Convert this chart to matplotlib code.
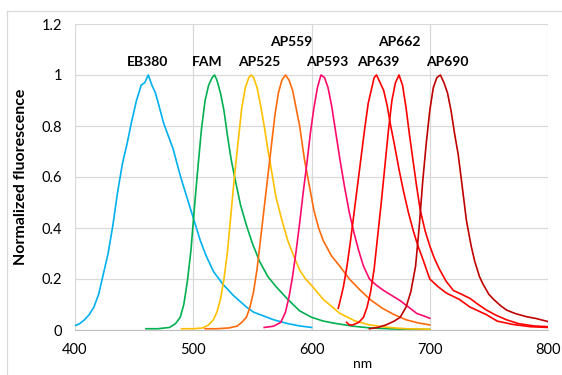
import matplotlib
matplotlib.use('Agg')
import matplotlib.pyplot as plt
from matplotlib.lines import Line2D

plt.rcParams['font.family'] = ['Lato', 'DejaVu Sans']

# spectra (wavelength in nm, normalized fluorescence)
eb380_wl = [400, 404, 408, 412, 416, 420, 424, 428, 432, 436, 440, 444, 448, 452, 456, 459, 462, 465,
            468, 471, 475, 479, 483, 487, 490, 494, 498, 502, 506, 511, 517, 525, 534, 545, 551, 568, 580, 590, 600]
eb380_y = [0.017, 0.025, 0.04, 0.06, 0.09, 0.14, 0.22, 0.30, 0.41, 0.54, 0.65, 0.73, 0.82, 0.90, 0.96, 0.97, 1.0, 0.96,
           0.93, 0.88, 0.81, 0.76, 0.71, 0.64, 0.59, 0.53, 0.47, 0.41, 0.35, 0.29, 0.23, 0.18, 0.135, 0.09, 0.07, 0.04, 0.025, 0.016, 0.01]

fam_wl = [460, 470, 480, 485, 489, 492, 495, 498, 501, 504, 507, 510, 513, 516, 518, 520, 523, 526, 529, 532, 535,
          540, 545, 550, 556, 563, 570, 580, 590, 600, 610, 620, 635, 650, 670, 700]
fam_y = [0.005, 0.005, 0.01, 0.025, 0.05, 0.10, 0.19, 0.31, 0.48, 0.64, 0.79, 0.90, 0.96, 0.99, 1.0, 0.98, 0.93, 0.86,
         0.76, 0.67, 0.60, 0.49, 0.41, 0.34, 0.27, 0.21, 0.17, 0.12, 0.075, 0.05, 0.035, 0.026, 0.015, 0.008, 0.004, 0.002]

ap525_wl = [490, 500, 508, 513, 517, 520, 523, 526, 529, 532, 535, 538, 541, 544, 547, 549, 551, 554, 557, 560, 563,
            566, 570, 575, 580, 585, 590, 595, 600, 610, 624, 637, 649, 665, 680, 700]
ap525_y = [0.005, 0.005, 0.008, 0.02, 0.04, 0.07, 0.12, 0.20, 0.31, 0.46, 0.61, 0.74, 0.87, 0.95, 0.99, 1.0, 0.99, 0.95,
           0.88, 0.80, 0.71, 0.63, 0.52, 0.43, 0.35, 0.29, 0.235, 0.20, 0.175, 0.12, 0.065, 0.035, 0.02, 0.01, 0.005, 0.003]

ap559_wl = [510, 520, 530, 537, 541, 545, 548, 551, 554, 557, 560, 563, 566, 569, 572, 575, 578, 581, 584, 587, 590,
            594, 598, 602, 606, 610, 617, 624, 632, 641, 650, 660, 670, 680, 690, 700]
ap559_y = [0.005, 0.005, 0.008, 0.015, 0.03, 0.05, 0.09, 0.15, 0.24, 0.36, 0.48, 0.60, 0.72, 0.84, 0.93, 0.98, 1.0, 0.98,
           0.94, 0.87, 0.80, 0.67, 0.57, 0.47, 0.40, 0.35, 0.29, 0.25, 0.20, 0.157, 0.118, 0.085, 0.06, 0.04, 0.028, 0.02]

ap593_wl = [560, 568, 574, 578, 581, 584, 587, 590, 593, 596, 599, 602, 605, 608, 611, 614, 617, 620, 624, 628, 632,
            636, 640, 644, 649, 655, 661, 668, 675, 682, 689, 695, 700]
ap593_y = [0.01, 0.015, 0.03, 0.07, 0.13, 0.21, 0.31, 0.42, 0.54, 0.65, 0.77, 0.87, 0.95, 1.0, 0.99, 0.95, 0.88, 0.79,
           0.67, 0.56, 0.46, 0.38, 0.31, 0.25, 0.20, 0.175, 0.155, 0.135, 0.115, 0.09, 0.065, 0.055, 0.046]

ap639_wl = [622.6, 624, 627, 630, 633, 636, 639, 642, 645, 648, 651, 653, 655, 658, 661, 664, 667, 670, 674, 678, 682,
            686, 690, 694, 700, 707, 714, 725, 734, 748, 757, 770, 785, 800]
ap639_y = [0.085, 0.11, 0.17, 0.25, 0.35, 0.46, 0.57, 0.68, 0.79, 0.89, 0.95, 0.99, 1.0, 0.97, 0.94, 0.88, 0.80, 0.73,
           0.63, 0.54, 0.46, 0.39, 0.33, 0.28, 0.20, 0.17, 0.145, 0.12, 0.09, 0.06, 0.035, 0.022, 0.013, 0.01]

ap662_wl = [629.7, 632, 635, 640, 644, 647, 650, 653, 656, 659, 662, 665, 668, 671, 674, 677, 680, 683, 686, 689, 692,
            696, 700, 704, 708, 714, 720, 727, 734, 741, 748, 756, 765, 775, 788, 800]
ap662_y = [0.03, 0.02, 0.02, 0.03, 0.05, 0.09, 0.15, 0.24, 0.37, 0.50, 0.64, 0.78, 0.90, 0.97, 1.0, 0.96, 0.87, 0.76,
           0.66, 0.56, 0.47, 0.39, 0.33, 0.28, 0.24, 0.19, 0.155, 0.14, 0.124, 0.10, 0.078, 0.058, 0.04, 0.025, 0.016, 0.013]

ap690_wl = [649, 656, 663, 670, 675, 680, 684, 688, 691, 694, 697, 700, 703, 706, 709, 712, 715, 718, 721, 724, 727,
            731, 735, 738, 742, 745, 750, 754, 760, 765, 772, 782, 790, 800]
ap690_y = [0.005, 0.01, 0.02, 0.035, 0.05, 0.09, 0.15, 0.25, 0.40, 0.58, 0.73, 0.86, 0.95, 0.99, 1.0, 0.97, 0.93, 0.86,
           0.77, 0.69, 0.58, 0.43, 0.33, 0.27, 0.21, 0.18, 0.14, 0.12, 0.095, 0.078, 0.065, 0.052, 0.045, 0.033]

names = ['EB380', 'FAM', 'AP525', 'AP559', 'AP593', 'AP639', 'AP662', 'AP690']
colors = ['#00B0F0', '#00B050', '#FFC000', '#FF6A0A', '#FF0A6C', '#FF0000', '#FF0000', '#C00000']
# label anchor positions (nm, value)
label_x = [461, 512, 556, 582.5, 613, 656.5, 674.5, 714.5]
label_y = [1.05, 1.05, 1.05, 1.13, 1.05, 1.05, 1.13, 1.05]

series = [(eb380_wl, eb380_y), (fam_wl, fam_y), (ap525_wl, ap525_y), (ap559_wl, ap559_y),
          (ap593_wl, ap593_y), (ap639_wl, ap639_y), (ap662_wl, ap662_y), (ap690_wl, ap690_y)]

fig = plt.figure(figsize=(5.62, 3.75), dpi=100)
ax = fig.add_axes([75 / 562, 1 - 330 / 375, 473 / 562, 306 / 375])

for (wl, y), c in zip(series, colors):
    ax.plot(wl, y, color=c, linewidth=1.2, zorder=3)

for n, lx, ly in zip(names, label_x, label_y):
    ax.text(lx, ly, n, ha='center', va='center', fontsize=10, fontweight='bold', zorder=4)

ax.set_xlim(400, 800)
ax.set_ylim(0, 1.2)
ax.set_xticks([400, 500, 600, 700, 800])
ax.set_yticks([0, 0.2, 0.4, 0.6, 0.8, 1.0, 1.2])
ax.set_yticklabels(['0', '0.2', '0.4', '0.6', '0.8', '1', '1.2'])
ax.grid(True, color='#d9d9d9', linewidth=0.9)
ax.set_axisbelow(True)
for s in ['top', 'right', 'left']:
    ax.spines[s].set_visible(False)
ax.spines['bottom'].set_color('#bfbfbf')
ax.tick_params(length=0, labelsize=10.5, pad=9)

ax.set_ylabel('Normalized fluorescence', fontsize=11.5, fontweight='bold')
ax.yaxis.set_label_coords(-0.1, 0.5)
ax.set_xlabel('nm', fontsize=10)
ax.xaxis.set_label_coords(0.609, -0.09)

# chart area border (cut off at right and bottom)
fig.add_artist(Line2D([7 / 562, 7 / 562], [0, 1 - 11 / 375], color='#d9d9d9', linewidth=0.9))
fig.add_artist(Line2D([7 / 562, 1], [1 - 11 / 375, 1 - 11 / 375], color='#d9d9d9', linewidth=0.9))

fig.savefig('out.png', dpi=100)
